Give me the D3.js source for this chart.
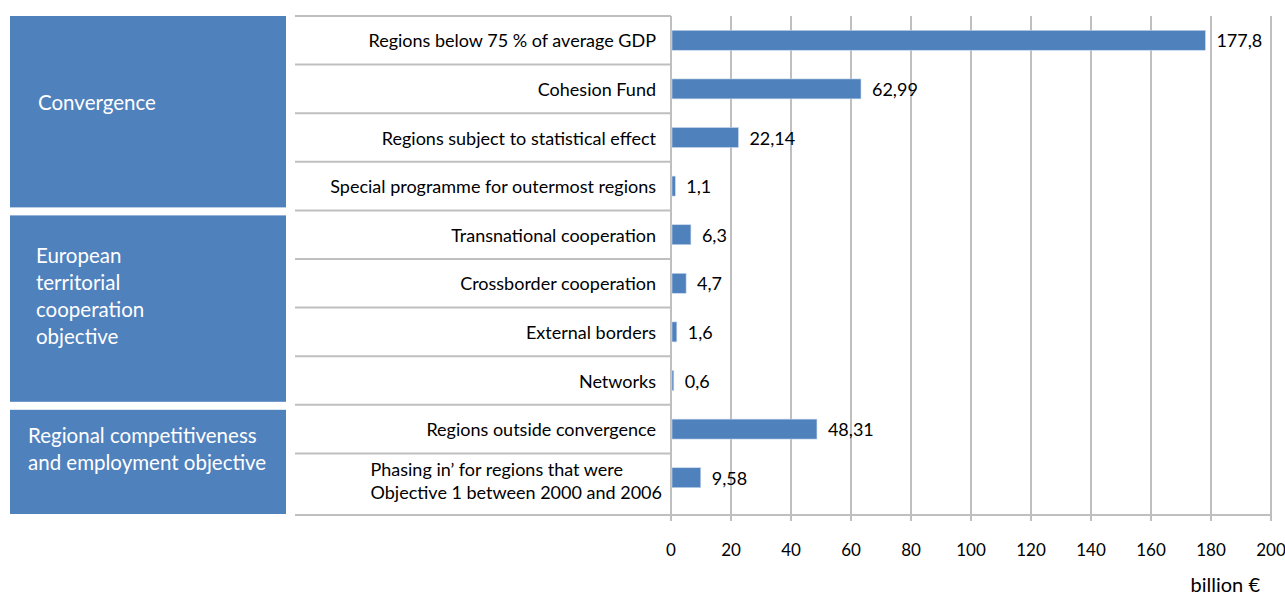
<!DOCTYPE html>
<html>
<head>
<meta charset="utf-8">
<title>Structural funds 2007-2013</title>
<script src="https://d3js.org/d3.v7.min.js"></script>
<style>
    body { margin: 0; background: #fff; }
    .cat-label, .value-label {
        font-family: 'Lato', sans-serif;
        font-size: 18px;
        fill: #000;
    }
    .tick-label {
        font-family: 'Lato', sans-serif;
        font-size: 17px;
        fill: #000;
    }
    .unit-label {
        font-family: 'Lato', sans-serif;
        font-size: 20px;
        fill: #000;
    }
    .group-label {
        font-family: 'Lato', sans-serif;
        font-size: 20.5px;
        fill: #fff;
    }
    .grid line { stroke: #bfbfbf; stroke-width: 2px; }
</style>
</head>
<body>
<svg id="chart" width="1285" height="595"></svg>
<script>
    // data
    const categories = [
        "Regions below 75 % of average GDP",
        "Cohesion Fund",
        "Regions subject to statistical  effect",
        "Special programme for outermost regions",
        "Transnational  cooperation",
        "Crossborder cooperation",
        "External borders",
        "Networks",
        "Regions outside  convergence",
        "Phasing in’ for regions that were|Objective 1 between 2000 and 2006"
    ];
    const values = [177.8, 62.99, 22.14, 1.1, 6.3, 4.7, 1.6, 0.6, 48.31, 9.58];
    const valueLabels = ["177,8", "62,99", "22,14", "1,1", "6,3", "4,7", "1,6", "0,6", "48,31", "9,58"];
    const groupNames = [
        ["Convergence"],
        ["European", "territorial", "cooperation", "objective"],
        ["Regional competitiveness", "and employment objective"]
    ];
    const groupSizes = [4, 4, 2];
    const xTicks = [0, 20, 40, 60, 80, 100, 120, 140, 160, 180, 200];
    const unitLabel = "billion €";

    const svg = d3.select("#chart");
    const blue = "#4f81bd";
    const grey = "#bfbfbf";

    const plotTop = 16, plotBottom = 515;
    const x = d3.scaleLinear().domain([0, 200]).range([671, 1271]);
    const y = d3.scaleBand().domain(d3.range(categories.length))
        .range([plotTop, 502]).paddingInner(0.59).paddingOuter(0.295);
    const step = y.step();
    const rowTop = i => plotTop + i * step;

    // vertical gridlines
    svg.append("g").attr("class", "grid")
        .selectAll("line").data(xTicks).join("line")
        .attr("x1", d => x(d)).attr("x2", d => x(d))
        .attr("y1", plotTop).attr("y2", plotBottom + 6);

    // x axis line
    svg.append("line")
        .attr("x1", x(0)).attr("x2", x(200))
        .attr("y1", plotBottom).attr("y2", plotBottom)
        .attr("stroke", grey).attr("stroke-width", 2);

    // category row lines
    const rowLines = d3.range(categories.length).map(rowTop).concat([plotBottom]);
    svg.append("g").attr("class", "grid")
        .selectAll("line").data(rowLines).join("line")
        .attr("x1", 295).attr("x2", x(0))
        .attr("y1", d => d).attr("y2", d => d);

    // group boxes
    let start = 0;
    groupNames.forEach((lines, gi) => {
        const n = groupSizes[gi];
        const top = rowTop(start) + (gi === 0 ? 0 : 5);
        const bottom = (gi === groupNames.length - 1) ? plotBottom - 1 : rowTop(start + n) - 3;
        svg.append("rect")
            .attr("x", 10).attr("y", top)
            .attr("width", 276).attr("height", bottom - top)
            .attr("fill", blue);
        const lh = 27;
        const cy = gi === 1 ? (top + bottom) / 2 - 13 : (top + bottom) / 2 - (gi === 2 ? 13 : 10);
        const tx = gi === 0 ? 38 : (gi === 1 ? 36 : 28);
        const t = svg.append("text").attr("class", "group-label")
            .attr("x", tx).attr("y", cy - (lines.length - 1) * lh / 2)
            .attr("dominant-baseline", "central");
        lines.forEach((ln, k) => {
            t.append("tspan").attr("x", tx).attr("dy", k === 0 ? 0 : lh).text(ln);
        });
        start += n;
    });

    // category labels
    categories.forEach((c, i) => {
        const lines = c.split("|");
        const cy = y(i) + y.bandwidth() / 2;
        if (lines.length === 1) {
            svg.append("text").attr("class", "cat-label")
                .attr("x", 656).attr("y", cy)
                .attr("text-anchor", "end").attr("dominant-baseline", "central")
                .text(c);
        } else {
            const g = svg.append("g");
            const ts = lines.map((ln, k) => g.append("text").attr("class", "cat-label")
                .attr("y", cy - 8.5 + k * 23).attr("dominant-baseline", "central").text(ln));
            const w = d3.max(ts, t => t.node().getComputedTextLength());
            ts.forEach(t => t.attr("x", 662 - w));
        }
    });

    // bars
    svg.append("g").selectAll("rect").data(values).join("rect")
        .attr("x", x(0) + 1)
        .attr("y", (d, i) => y(i))
        .attr("width", d => x(d) - x(0))
        .attr("height", y.bandwidth())
        .attr("fill", blue)
        .attr("stroke", "#c6d5ea").attr("stroke-width", 0.6);

    // value labels
    svg.append("g").selectAll("text").data(values).join("text")
        .attr("class", "value-label")
        .attr("x", d => x(d) + 12)
        .attr("y", (d, i) => y(i) + y.bandwidth() / 2)
        .attr("dominant-baseline", "central")
        .text((d, i) => valueLabels[i]);

    // tick labels
    svg.append("g").selectAll("text").data(xTicks).join("text")
        .attr("class", "tick-label")
        .attr("x", d => x(d)).attr("y", 549)
        .attr("text-anchor", "middle").attr("dominant-baseline", "central")
        .text(d => d);

    svg.append("text").attr("class", "unit-label")
        .attr("x", 1260).attr("y", 592)
        .attr("text-anchor", "end")
        .text(unitLabel);
</script>
</body>
</html>
